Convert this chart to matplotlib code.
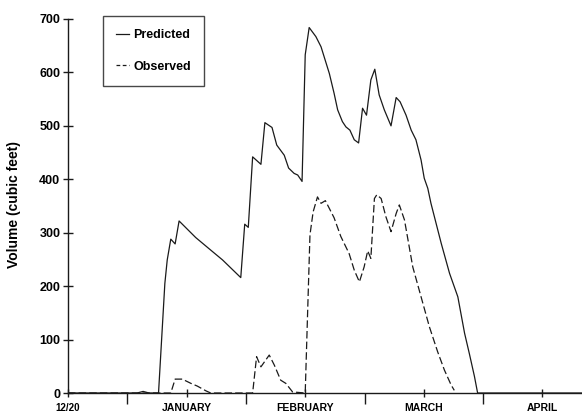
import matplotlib
matplotlib.use("Agg")
import matplotlib.pyplot as plt
from matplotlib.lines import Line2D

plt.rcParams['font.family'] = ['Liberation Sans', 'DejaVu Sans']
plt.rcParams['font.weight'] = 'bold'

# days since 12/20
pred_day = [0, 17.5, 19, 20.5, 22.9, 24.5, 25.1, 26.0, 27.1, 28.1, 32.3, 36.5, 39.1, 43.7,
            44.7, 45.6, 46.7, 48.8, 49.8, 51.6, 52.8, 54.7, 55.8, 57.2, 58.1, 59.2,
            60.0, 61.0, 62.7, 64.0, 66.1, 67.3, 68.2, 69.4, 70.3, 71.3, 72.4, 73.5,
            74.5, 75.5, 76.6, 77.6, 78.7, 80.0, 81.7, 83.0, 84.0, 85.5, 86.8, 88.0,
            89.3, 90.1, 91.0, 91.8, 94.4, 96.5, 98.6, 100.3, 101.5, 102.8, 103.6, 130]
pred_vol = [0, 0, 3, 0, 0, 205, 249, 288, 279, 322, 291, 265, 249, 216,
            316, 310, 442, 428, 506, 497, 464, 445, 421, 411, 408, 396,
            633, 684, 667, 648, 598, 561, 530, 508, 498, 492, 474, 468,
            533, 520, 586, 606, 558, 530, 500, 553, 545, 520, 492, 474,
            436, 402, 383, 355, 280, 224, 180, 112, 74, 31, 0, 0]

obs_day = [0, 26.0, 27.1, 28.9, 31.1, 32.7, 34.9, 36.1, 46.7, 47.7, 48.8, 50.9, 52.2,
           53.8, 55.1, 56.8, 60.0, 60.6, 61.2, 62.0, 63.1, 64.0, 65.1, 67.3, 69.0,
           71.1, 72.4, 73.7, 74.9, 75.8, 76.6, 77.5, 78.1, 79.2, 80.4, 81.7, 83.0,
           83.8, 85.1, 87.2, 89.3, 91.4, 93.5, 95.2, 96.9, 97.7]
obs_vol = [0, 0, 26, 26, 18, 13, 4, 0, 0, 68, 49, 71, 52,
           24, 18, 2, 0, 149, 296, 339, 367, 355, 360, 328, 293,
           261, 230, 208, 236, 266, 252, 364, 371, 364, 330, 302, 336,
           352, 324, 236, 180, 124, 77, 43, 15, 5]

month_ticks = [0, 30, 60, 90, 120]
month_labels = ['12/20', 'JANUARY', 'FEBRUARY', 'MARCH', 'APRIL']
boundary_ticks = [15, 45, 75, 105]

ink = '#1a1a1a'

fig = plt.figure(figsize=(5.82, 4.13), dpi=100)
ax = fig.add_axes([0.1168, 0.0484, 0.8832, 0.9056])

ax.plot(pred_day, pred_vol, color=ink, lw=0.9)
ax.plot(obs_day, obs_vol, color=ink, lw=0.9, dashes=(6, 2.5))

ax.set_xlim(0, 130)
ax.set_ylim(0, 700)
ax.spines['top'].set_visible(False)
ax.spines['right'].set_visible(False)
for s in ('left', 'bottom'):
    ax.spines[s].set_color(ink)
    ax.spines[s].set_linewidth(1.0)
    ax.spines[s].set_zorder(3)

ax.set_yticks(range(0, 701, 100))
ax.tick_params(axis='y', direction='inout', length=7, width=1.0, color=ink,
               labelsize=9, pad=2)
ax.set_xticks(month_ticks)
ax.set_xticklabels(month_labels)
ax.set_xticks(boundary_ticks, minor=True)
ax.tick_params(axis='x', which='major', direction='inout', length=6, width=1.0,
               color=ink, labelsize=7.5, pad=4)
ax.tick_params(axis='x', which='minor', direction='out', length=8, width=1.0, color=ink)
ax.get_xticklabels()[0].set_fontsize(7)

ax.set_ylabel('Volume (cubic feet)', fontsize=10, fontweight='bold')
ax.yaxis.set_label_coords(-0.092, 0.505)

handles = [Line2D([], [], color=ink, lw=0.9),
           Line2D([], [], color=ink, lw=0.9, dashes=(3, 2))]
leg = ax.legend(handles, ['Predicted', 'Observed'], loc='upper left',
                bbox_to_anchor=(103 / 582, 1 - 16 / 413), bbox_transform=fig.transFigure,
                borderaxespad=0, fancybox=False, frameon=True, fontsize=9,
                handlelength=1.0, handletextpad=0.4, labelspacing=1.55,
                borderpad=1.05)
leg.get_frame().set_edgecolor(ink)
leg.get_frame().set_linewidth(1.0)

fig.savefig('out.png', dpi=100, facecolor='white')
